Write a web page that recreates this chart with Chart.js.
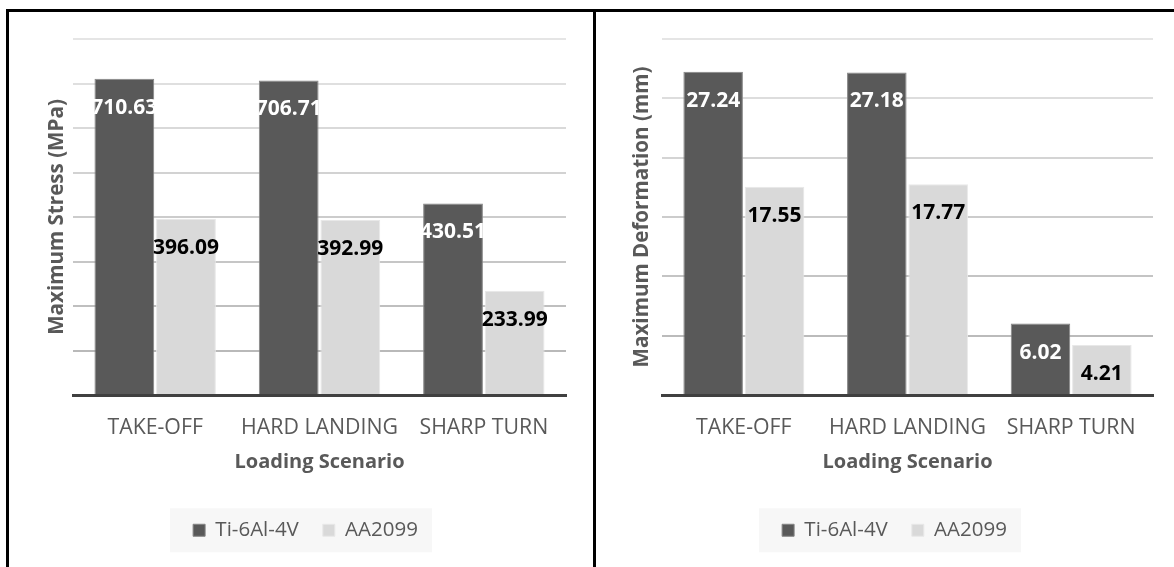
<!DOCTYPE html>
<html>
<head>
<meta charset="utf-8">
<script src="https://cdn.jsdelivr.net/npm/chart.js@4.4.1/dist/chart.umd.min.js"></script>
<style>
  html, body { margin: 0; padding: 0; background: #fff; }
  body { width: 1174px; height: 567px; overflow: hidden; position: relative; }
  .wrap { position: absolute; top: 12px; height: 620px; }
  .line { position: absolute; background: #000; z-index: 2; }
</style>
</head>
<body>
<div class="wrap" style="left:9px;width:593px"><canvas id="stress" width="593" height="620"></canvas></div>
<div class="wrap" style="left:596px;width:597px"><canvas id="deform" width="597" height="620"></canvas></div>
<div class="line" style="left:6px;top:9px;width:1168px;height:3px"></div>
<div class="line" style="left:6px;top:9px;width:3px;height:560px"></div>
<div class="line" style="left:593px;top:9px;width:3px;height:560px"></div>
<script>
const scenarios = ['TAKE-OFF', 'HARD LANDING', 'SHARP TURN']
const seriesNames = ['Ti-6Al-4V', 'AA2099']
const stressTi = [710.63, 706.71, 430.51]
const stressAA = [396.09, 392.99, 233.99]
const deformTi = [27.24, 27.18, 6.02]
const deformAA = [17.55, 17.77, 4.21]

const DARK = '#595959'
const LIGHT = '#d9d9d9'
const TEXT = '#595959'

Chart.defaults.font.family = "'Open Sans', sans-serif"
Chart.defaults.color = TEXT

// value labels sit ~28px below the bar top, like Excel's "inside end"
const barLabels = {
  id: 'barLabels',
  afterDraw(chart) {
    const ctx = chart.ctx
    ctx.save()
    ctx.font = "bold 21px 'Open Sans', sans-serif"
    ctx.textAlign = 'center'
    ctx.textBaseline = 'middle'
    chart.data.datasets.forEach((ds, i) => {
      ctx.fillStyle = i === 0 ? '#ffffff' : '#000000'
      chart.getDatasetMeta(i).data.forEach((bar, j) => {
        ctx.fillText(ds.data[j].toFixed(2), bar.x, bar.y + 29)
      })
    })
    ctx.restore()
  }
}

// light panel behind the legend
const legendBg = {
  id: 'legendBg',
  beforeDraw(chart) {
    const boxes = chart.legend && chart.legend.legendHitBoxes
    if (!boxes || !boxes.length) return
    const first = boxes[0], last = boxes[boxes.length - 1]
    const cy = first.top + first.height / 2
    const ctx = chart.ctx
    ctx.save()
    ctx.fillStyle = '#f7f7f7'
    ctx.fillRect(first.left - 23, cy - 22, last.left + last.width + 14 - (first.left - 23), 44)
    ctx.restore()
  }
}

function makeChart(id, tiData, aaData, yTitle, yMax, yStep, opts) {
  new Chart(document.getElementById(id), {
    type: 'bar',
    data: {
      labels: scenarios,
      datasets: [
        {label: seriesNames[0], data: tiData, backgroundColor: DARK, borderColor: '#858585', borderWidth: 1},
        {label: seriesNames[1], data: aaData, backgroundColor: LIGHT, borderColor: '#e8e8e8', borderWidth: 1}
      ]
    },
    options: {
      responsive: false,
      animation: false,
      devicePixelRatio: 1,
      categoryPercentage: 0.75,
      barPercentage: 0.97,
      layout: {padding: {top: 27, left: 0, right: 0, bottom: 81.5}},
      plugins: {
        tooltip: {enabled: false},
        legend: {
          position: 'bottom',
          labels: {boxWidth: 12, boxHeight: 12, padding: 24, color: TEXT, font: {size: 20.5}}
        }
      },
      scales: {
        x: {
          z: 1,
          grid: {display: false, drawTicks: false},
          border: {display: true, color: '#404040', width: 3},
          ticks: {color: TEXT, font: {size: 21.3}, padding: 20},
          title: {display: true, text: 'Loading Scenario', color: TEXT, font: {size: 20, weight: 'bold'}, padding: {top: 0, bottom: 22}},
          afterFit: (s) => { s.height = 101 }
        },
        y: {
          z: 1,
          min: 0,
          max: yMax,
          grid: {
            drawTicks: false,
            lineWidth: 2,
            color: (c) => 'rgba(0,0,0,' + (0.1 + 0.2 * (1 - c.tick.value / yMax)).toFixed(3) + ')'
          },
          border: {display: false},
          ticks: {display: false, stepSize: yStep},
          title: {display: true, text: yTitle, color: TEXT, font: {size: 20.6, weight: 'bold'}, padding: {top: opts.titlePad, bottom: 0}},
          afterFit: (s) => { s.width = opts.axisWidth }
        },
        y2: {
          position: 'right',
          grid: {display: false, drawTicks: false},
          border: {display: false},
          ticks: {display: false},
          afterFit: (s) => { s.width = opts.rightGap }
        }
      }
    },
    plugins: [legendBg, barLabels]
  })
}

makeChart('stress', stressTi, stressAA, 'Maximum Stress (MPa)', 800, 100, {axisWidth: 64, titlePad: 36, rightGap: 36})
makeChart('deform', deformTi, deformAA, 'Maximum Deformation (mm)', 30, 5, {axisWidth: 66, titlePad: 34, rightGap: 40})
</script>
</body>
</html>
